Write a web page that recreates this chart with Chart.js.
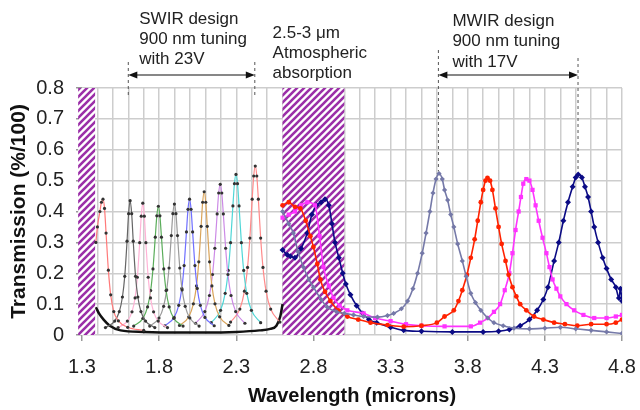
<!DOCTYPE html>
<html>
<head>
<meta charset="utf-8">
<script src="https://cdn.jsdelivr.net/npm/chart.js@4.4.1/dist/chart.umd.min.js"></script>
<style>
  html, body { margin: 0; padding: 0; background: #fff; }
  #chart { display: block; }
</style>
</head>
<body>
<canvas id="chart" width="640" height="410"></canvas>
<script>
const ctx = document.getElementById("chart")
const FONT = "Arial, 'Liberation Sans', sans-serif"

// SWIR design: one narrow peak per bias step (wavelength um, transmission)
const swir1 = [[1.39,0.30],[1.40,0.35],[1.416,0.40],[1.426,0.43],[1.436,0.44],[1.446,0.41],[1.456,0.33],[1.471,0.21],[1.486,0.13],[1.506,0.076],[1.536,0.046],[1.596,0.025],[1.70,0.015]]
const swir2 = [[1.452,0.024],[1.512,0.045],[1.542,0.076],[1.562,0.123],[1.577,0.19],[1.592,0.304],[1.602,0.393],[1.612,0.435],[1.622,0.393],[1.632,0.304],[1.647,0.19],[1.662,0.123],[1.682,0.076],[1.712,0.045],[1.772,0.024]]
const swir3 = [[1.534,0.024],[1.594,0.045],[1.624,0.075],[1.644,0.12],[1.659,0.187],[1.674,0.299],[1.684,0.385],[1.694,0.427],[1.704,0.385],[1.714,0.299],[1.729,0.187],[1.744,0.12],[1.764,0.075],[1.794,0.045],[1.854,0.024]]
const swir4 = [[1.635,0.029],[1.695,0.054],[1.725,0.091],[1.745,0.144],[1.76,0.214],[1.775,0.317],[1.785,0.386],[1.795,0.417],[1.805,0.386],[1.815,0.317],[1.83,0.214],[1.845,0.144],[1.865,0.091],[1.895,0.054],[1.955,0.029]]
const swir5 = [[1.739,0.029],[1.799,0.055],[1.829,0.093],[1.849,0.146],[1.864,0.217],[1.879,0.322],[1.889,0.393],[1.899,0.424],[1.909,0.393],[1.919,0.322],[1.934,0.217],[1.949,0.146],[1.969,0.093],[1.999,0.055],[2.059,0.029]]
const swir6 = [[1.837,0.03],[1.897,0.057],[1.927,0.096],[1.947,0.151],[1.962,0.225],[1.977,0.334],[1.987,0.407],[1.997,0.44],[2.007,0.407],[2.017,0.334],[2.032,0.225],[2.047,0.151],[2.067,0.096],[2.097,0.057],[2.157,0.03]]
const swir7 = [[1.932,0.031],[1.992,0.059],[2.022,0.101],[2.042,0.159],[2.057,0.237],[2.072,0.352],[2.082,0.43],[2.092,0.464],[2.102,0.43],[2.112,0.352],[2.127,0.237],[2.142,0.159],[2.162,0.101],[2.192,0.059],[2.252,0.031]]
const swir8 = [[2.036,0.038],[2.096,0.076],[2.126,0.128],[2.146,0.196],[2.161,0.281],[2.176,0.392],[2.186,0.46],[2.196,0.488],[2.206,0.46],[2.216,0.392],[2.231,0.281],[2.246,0.196],[2.266,0.128],[2.296,0.076],[2.356,0.038]]
const swir9 = [[2.138,0.04],[2.198,0.08],[2.228,0.135],[2.248,0.209],[2.263,0.299],[2.278,0.418],[2.288,0.49],[2.298,0.52],[2.308,0.49],[2.318,0.418],[2.333,0.299],[2.348,0.209],[2.368,0.135],[2.398,0.08],[2.458,0.04]]
const swir10 = [[2.263,0.042],[2.323,0.084],[2.353,0.142],[2.373,0.219],[2.388,0.314],[2.403,0.44],[2.413,0.515],[2.423,0.547],[2.433,0.515],[2.443,0.44],[2.458,0.314],[2.473,0.219],[2.493,0.142],[2.523,0.084],[2.583,0.042]]
const swirBase = [[1.39,0.09],[1.41,0.07],[1.44,0.05],[1.48,0.03],[1.55,0.015],[1.7,0.01],[1.9,0.008],[2.1,0.008],[2.3,0.01],[2.45,0.015],[2.52,0.02],[2.56,0.03],[2.585,0.06],[2.6,0.1]]
const swirColors = ["#ff7a7a","#666666","#ffb3d6","#5aad5a","#9a9a9a","#7070ff","#d9a45a","#cc8ae6","#4fd6d6","#ff8a8a"]

// MWIR design: four bias settings
const mwir1 = [[2.60,0.40],[2.64,0.36],[2.67,0.33],[2.70,0.27],[2.735,0.22],[2.77,0.18],[2.80,0.155],[2.85,0.115],[2.89,0.09],[2.95,0.075],[3.00,0.07],[3.06,0.065],[3.125,0.06],[3.215,0.058],[3.28,0.063],[3.32,0.07],[3.37,0.085],[3.41,0.11],[3.445,0.15],[3.475,0.2],[3.505,0.265],[3.53,0.33],[3.555,0.40],[3.575,0.46],[3.595,0.505],[3.614,0.523],[3.635,0.505],[3.65,0.47],[3.67,0.437],[3.69,0.39],[3.71,0.35],[3.735,0.295],[3.765,0.24],[3.79,0.19],[3.82,0.135],[3.85,0.105],[3.885,0.08],[3.93,0.055],[3.97,0.04],[4.03,0.03],[4.1,0.022],[4.2,0.02],[4.3,0.022],[4.4,0.025],[4.5,0.02],[4.6,0.015],[4.7,0.01],[4.8,0.005]]
const mwir2 = [[2.60,0.42],[2.64,0.43],[2.68,0.415],[2.715,0.41],[2.75,0.37],[2.78,0.32],[2.80,0.285],[2.825,0.23],[2.845,0.18],[2.875,0.14],[2.91,0.11],[2.96,0.08],[3.02,0.06],[3.09,0.05],[3.17,0.04],[3.28,0.032],[3.385,0.027],[3.5,0.03],[3.6,0.04],[3.65,0.06],[3.71,0.08],[3.74,0.11],[3.765,0.145],[3.795,0.195],[3.82,0.25],[3.845,0.31],[3.865,0.37],[3.885,0.43],[3.90,0.47],[3.915,0.5],[3.928,0.509],[3.945,0.5],[3.96,0.47],[3.98,0.41],[4.0,0.35],[4.02,0.295],[4.045,0.24],[4.065,0.195],[4.09,0.155],[4.115,0.125],[4.14,0.10],[4.18,0.08],[4.23,0.06],[4.29,0.05],[4.36,0.04],[4.43,0.035],[4.51,0.03],[4.6,0.035],[4.7,0.035],[4.76,0.04],[4.8,0.05]]
const mwir3 = [[2.60,0.38],[2.64,0.39],[2.68,0.40],[2.72,0.42],[2.76,0.43],[2.81,0.42],[2.84,0.32],[2.865,0.22],[2.90,0.16],[2.93,0.12],[2.97,0.095],[3.02,0.08],[3.125,0.07],[3.2,0.055],[3.3,0.045],[3.4,0.035],[3.5,0.03],[3.65,0.028],[3.82,0.028],[3.88,0.04],[3.93,0.055],[3.97,0.075],[4.01,0.10],[4.04,0.145],[4.07,0.20],[4.09,0.265],[4.11,0.34],[4.13,0.40],[4.145,0.447],[4.16,0.49],[4.18,0.505],[4.20,0.50],[4.22,0.47],[4.24,0.42],[4.26,0.37],[4.285,0.315],[4.31,0.265],[4.33,0.22],[4.35,0.18],[4.375,0.15],[4.40,0.125],[4.44,0.10],[4.49,0.08],[4.55,0.065],[4.62,0.055],[4.7,0.055],[4.76,0.06],[4.8,0.065]]
const mwir4 = [[2.60,0.275],[2.63,0.26],[2.65,0.255],[2.68,0.25],[2.72,0.28],[2.76,0.33],[2.79,0.39],[2.82,0.42],[2.85,0.43],[2.875,0.44],[2.90,0.42],[2.92,0.36],[2.94,0.30],[2.965,0.25],[2.99,0.20],[3.01,0.165],[3.04,0.13],[3.08,0.095],[3.12,0.07],[3.16,0.05],[3.21,0.04],[3.3,0.025],[3.385,0.015],[3.5,0.012],[3.7,0.01],[3.9,0.01],[4.0,0.012],[4.07,0.018],[4.14,0.03],[4.2,0.05],[4.25,0.08],[4.29,0.115],[4.32,0.155],[4.36,0.24],[4.39,0.30],[4.42,0.37],[4.45,0.43],[4.48,0.48],[4.50,0.51],[4.516,0.52],[4.54,0.51],[4.56,0.48],[4.58,0.447],[4.60,0.40],[4.62,0.35],[4.645,0.30],[4.675,0.25],[4.70,0.215],[4.73,0.18],[4.76,0.155],[4.78,0.12],[4.79,0.15],[4.8,0.11]]

// hatched bands and annotation ranges (microns)
const absorptionBands = [[1.275, 1.385], [2.6, 3.0]]
const swirTuning = [1.6, 2.42]
const mwirTuning = [3.61, 4.515]
const swirText = ["SWIR design", "900 nm tuning", "with 23V"]
const mwirText = ["MWIR design", "900 nm tuning", "with 17V"]
const atmText = ["2.5-3 \u03bcm", "Atmospheric", "absorption"]
const xLabelTicks = [1.3, 1.8, 2.3, 2.8, 3.3, 3.8, 4.3, 4.8]

function hatchPattern() {
    const c = document.createElement("canvas")
    c.width = 7; c.height = 7
    const g = c.getContext("2d")
    g.fillStyle = "#fff"
    g.fillRect(0, 0, 7, 7)
    g.strokeStyle = "#9b2fa8"
    g.lineWidth = 2.6
    g.beginPath()
    g.moveTo(-1, 8); g.lineTo(8, -1)
    g.moveTo(-4.5, 4.5); g.lineTo(4.5, -4.5)
    g.moveTo(2.5, 11.5); g.lineTo(11.5, 2.5)
    g.stroke()
    return g.createPattern(c, "repeat")
}

const hatch = {
    id: "hatch",
    beforeDatasetsDraw(chart) {
        const { ctx, scales: { x, y } } = chart
        ctx.save()
        ctx.fillStyle = hatchPattern()
        absorptionBands.forEach(b => {
            const l = x.getPixelForValue(b[0]), r = x.getPixelForValue(b[1])
            const t = y.getPixelForValue(0.8), btm = y.getPixelForValue(0)
            ctx.fillRect(l, t, r - l, btm - t)
        })
        ctx.restore()
    }
}

function arrow(g, x1, x2, yy) {
    g.beginPath(); g.moveTo(x1 + 4, yy); g.lineTo(x2 - 4, yy); g.stroke()
    g.beginPath(); g.moveTo(x1, yy); g.lineTo(x1 + 9, yy - 3.5); g.lineTo(x1 + 9, yy + 3.5); g.closePath(); g.fill()
    g.beginPath(); g.moveTo(x2, yy); g.lineTo(x2 - 9, yy - 3.5); g.lineTo(x2 - 9, yy + 3.5); g.closePath(); g.fill()
}

function dashed(g, xx, y1, y2) {
    g.save()
    g.setLineDash([3, 3])
    g.strokeStyle = "#555"
    g.lineWidth = 1
    g.beginPath(); g.moveTo(xx, y1); g.lineTo(xx, y2); g.stroke()
    g.restore()
}

const notes = {
    id: "notes",
    afterDraw(chart) {
        const { ctx, scales: { x, y }, chartArea } = chart
        const top = chartArea.top
        ctx.save()
        ctx.fillStyle = "#222"
        ctx.strokeStyle = "#111"
        ctx.lineWidth = 1.2
        ctx.font = "17px " + FONT
        ctx.textBaseline = "middle"
        const sL = x.getPixelForValue(swirTuning[0]), sR = x.getPixelForValue(swirTuning[1])
        const mL = x.getPixelForValue(mwirTuning[0]), mR = x.getPixelForValue(mwirTuning[1])
        swirText.forEach((t, i) => ctx.fillText(t, sL + 11, top - 69 + i * 20))
        mwirText.forEach((t, i) => ctx.fillText(t, mL + 14, top - 67 + i * 20.5))
        atmText.forEach((t, i) => ctx.fillText(t, x.getPixelForValue(absorptionBands[1][0]) - 10, top - 55 + i * 20))
        const peakTop = y.getPixelForValue(0.53)
        dashed(ctx, sL, top - 26, top + 10)
        dashed(ctx, sR, top - 26, top + 10)
        dashed(ctx, mL, top - 38, peakTop)
        dashed(ctx, mR, top - 30, peakTop)
        ctx.fillStyle = "#111"
        arrow(ctx, sL, sR, top - 13)
        arrow(ctx, mL, mR, top - 13)
        ctx.restore()
    }
}

const datasets = []
;[swir1, swir2, swir3, swir4, swir5, swir6, swir7, swir8, swir9, swir10].forEach((d, i) => {
    datasets.push({
        data: d,
        borderColor: swirColors[i],
        borderWidth: 1.2,
        pointRadius: 1.6,
        pointBackgroundColor: "#333",
        pointBorderWidth: 0,
        cubicInterpolationMode: "monotone"
    })
})
datasets.push({ data: swirBase, borderColor: "#111", borderWidth: 2.5, pointRadius: 0, cubicInterpolationMode: "monotone" })

const mwirStyles = [
    { c: "#7579a8", p: "rectRot", r: 2.6 },
    { c: "#ff2200", p: "circle", r: 2.4 },
    { c: "#ff33ff", p: "rect", r: 3 },
    { c: "#0b0b85", p: "rectRot", r: 3 }
]
;[mwir1, mwir2, mwir3, mwir4].forEach((d, i) => {
    const s = mwirStyles[i]
    datasets.push({
        data: d,
        borderColor: s.c,
        backgroundColor: s.c,
        borderWidth: 1.6,
        pointStyle: s.p,
        pointRadius: s.r,
        pointBorderWidth: 0,
        cubicInterpolationMode: "monotone"
    })
})

const isLabelTick = v => xLabelTicks.some(t => Math.abs(t - v) < 1e-6)

new Chart(ctx, {
    type: "line",
    data: { datasets: datasets },
    plugins: [hatch, notes],
    options: {
        responsive: false,
        animation: false,
        devicePixelRatio: 1,
        layout: { padding: { top: 88, right: 18, left: 0, bottom: 0 } },
        plugins: { legend: { display: false }, tooltip: { enabled: false } },
        scales: {
            x: {
                type: "linear",
                min: 1.3,
                max: 4.8,
                ticks: {
                    stepSize: 0.1,
                    autoSkip: false,
                    maxRotation: 0,
                    padding: 14,
                    color: "#222",
                    font: { size: 20, family: FONT },
                    callback: v => isLabelTick(v) ? v.toFixed(1) : ""
                },
                grid: {
                    color: "#cdcdcd",
                    lineWidth: 1.5,
                    tickLength: 6,
                    tickColor: c => isLabelTick(c.tick.value) ? "#999" : "rgba(0,0,0,0)"
                },
                border: { display: false },
                title: {
                    display: true,
                    text: "Wavelength (microns)",
                    color: "#111",
                    font: { size: 20, weight: "bold", family: FONT },
                    padding: { top: 0, bottom: 2 }
                },
                afterFit: s => { s.height = 75; s.paddingLeft = 0; s.paddingRight = 0 }
            },
            y: {
                min: 0,
                max: 0.8,
                ticks: {
                    stepSize: 0.1,
                    padding: 12,
                    color: "#222",
                    font: { size: 20, family: FONT },
                    callback: v => Math.abs(v) < 1e-9 ? "0" : v.toFixed(1)
                },
                grid: { color: "#cdcdcd", lineWidth: 1.5, tickLength: 6, tickColor: "#999" },
                border: { display: false },
                title: {
                    display: true,
                    text: "Transmission (%/100)",
                    color: "#111",
                    font: { size: 21, weight: "bold", family: FONT },
                    padding: { top: 7, bottom: 0 }
                },
                afterFit: s => { s.width = 82 }
            }
        }
    }
})
</script>
</body>
</html>
